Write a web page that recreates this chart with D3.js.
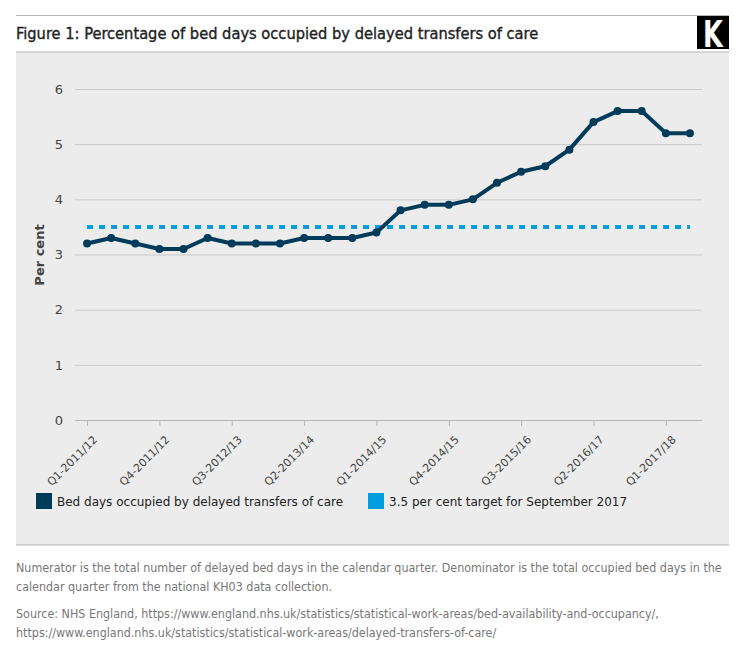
<!DOCTYPE html>
<html>
<head>
<meta charset="utf-8">
<script src="https://cdn.jsdelivr.net/npm/d3@7"></script>
<style>
  body { margin: 0; background: #fff; }
  svg { display: block; }
</style>
</head>
<body>
<svg id="canvas"></svg>
<script>
const WIDTH = 745;
const HEIGHT = 672;

// data
const quarters = [
  "Q1-2011/12", "Q2-2011/12", "Q3-2011/12", "Q4-2011/12",
  "Q1-2012/13", "Q2-2012/13", "Q3-2012/13", "Q4-2012/13",
  "Q1-2013/14", "Q2-2013/14", "Q3-2013/14", "Q4-2013/14",
  "Q1-2014/15", "Q2-2014/15", "Q3-2014/15", "Q4-2014/15",
  "Q1-2015/16", "Q2-2015/16", "Q3-2015/16", "Q4-2015/16",
  "Q1-2016/17", "Q2-2016/17", "Q3-2016/17", "Q4-2016/17",
  "Q1-2017/18", "Q2-2017/18"
];
const bedDays = [
  3.2, 3.3, 3.2, 3.1, 3.1, 3.3, 3.2, 3.2, 3.2, 3.3, 3.3, 3.3, 3.4,
  3.8, 3.9, 3.9, 4.0, 4.3, 4.5, 4.6, 4.9, 5.4, 5.6, 5.6, 5.2, 5.2
];
const target = 3.5;
const tickLabels = [
  "Q1-2011/12", "Q4-2011/12", "Q3-2012/13", "Q2-2013/14", "Q1-2014/15",
  "Q4-2014/15", "Q3-2015/16", "Q2-2016/17", "Q1-2017/18"
];
const yTicks = [0, 1, 2, 3, 4, 5, 6];
const legendItems = [
  "Bed days occupied by delayed transfers of care",
  "3.5 per cent target for September 2017"
];

const LINE_COL = "#003b5a";
const TARGET_COL = "#009ede";
const COND = "'DejaVu Sans Condensed', 'DejaVu Sans', sans-serif";
const SANS = "'DejaVu Sans', sans-serif";

const svg = d3.select("#canvas").attr("width", WIDTH).attr("height", HEIGHT);

// frame
svg.append("line").attr("x1", 16).attr("x2", 729).attr("y1", 15.5).attr("y2", 15.5)
  .attr("stroke", "#b5b5b5");
svg.append("text").attr("x", 16).attr("y", 39)
  .attr("font-family", COND).attr("font-size", 16.3)
  .attr("fill", "#222").attr("stroke", "#222").attr("stroke-width", 0.35)
  .text("Figure 1: Percentage of bed days occupied by delayed transfers of care");

// K logo
svg.append("rect").attr("x", 697).attr("y", 16).attr("width", 32).attr("height", 33).attr("fill", "#000");
svg.append("text").attr("x", 713).attr("y", 47).attr("text-anchor", "middle")
  .attr("font-family", COND).attr("font-size", 38).attr("font-weight", "bold").attr("fill", "#fff")
  .attr("transform", "translate(713,0) scale(0.75,1) translate(-713,0)")
  .text("K");

svg.append("rect").attr("x", 16).attr("y", 52).attr("width", 713).attr("height", 493).attr("fill", "#ebeceb");
svg.append("line").attr("x1", 16).attr("x2", 729).attr("y1", 52).attr("y2", 52).attr("stroke", "#b5b5b5");
svg.append("line").attr("x1", 16).attr("x2", 729).attr("y1", 545).attr("y2", 545).attr("stroke", "#b5b5b5");

// scales
const xScale = d3.scalePoint().domain(quarters).range([75, 702]).padding(0.5);
const yScale = d3.scaleLinear().domain([0, 6]).range([420, 89]);

// grid + y axis
const yAxis = d3.axisLeft(yScale).tickValues(yTicks).tickFormat(d3.format("d"))
  .tickSize(-(702 - 75)).tickPadding(12);
const gy = svg.append("g").attr("transform", "translate(75,0)").call(yAxis);
gy.select(".domain").remove();
gy.selectAll(".tick line").attr("stroke", "#c9c9c9");
gy.selectAll(".tick text").attr("font-family", SANS).attr("font-size", 13).attr("fill", "#444");

svg.append("text")
  .attr("transform", "translate(44,255) rotate(-90)")
  .attr("text-anchor", "middle")
  .attr("font-family", SANS).attr("font-size", 13).attr("font-weight", "bold").attr("fill", "#444")
  .text("Per cent");

// x axis
const xAxis = d3.axisBottom(xScale).tickValues(tickLabels).tickSize(6).tickSizeOuter(0);
const gx = svg.append("g").attr("transform", "translate(0,420)").call(xAxis);
gx.select(".domain").attr("stroke", "#b5b5b5");
gx.selectAll(".tick line").attr("stroke", "#b5b5b5");
gx.selectAll(".tick text")
  .attr("font-family", SANS).attr("font-size", 11).attr("fill", "#444")
  .attr("text-anchor", "end")
  .attr("dx", 0).attr("dy", 0)
  .attr("transform", "translate(4,14) rotate(-45)");

// target line
svg.append("line")
  .attr("x1", xScale(quarters[0])).attr("x2", xScale(quarters[quarters.length - 1]))
  .attr("y1", yScale(target)).attr("y2", yScale(target))
  .attr("stroke", TARGET_COL).attr("stroke-width", 4).attr("stroke-dasharray", "6,6");

// series
const line = d3.line().x((d, i) => xScale(quarters[i])).y((d) => yScale(d));
svg.append("path").datum(bedDays).attr("d", line)
  .attr("fill", "none").attr("stroke", LINE_COL).attr("stroke-width", 4)
  .attr("stroke-linejoin", "round");
svg.selectAll("circle.pt").data(bedDays).enter().append("circle")
  .attr("class", "pt")
  .attr("cx", (d, i) => xScale(quarters[i])).attr("cy", (d) => yScale(d))
  .attr("r", 4).attr("fill", LINE_COL);

// legend
const legendX = [36, 368];
const legendCols = [LINE_COL, TARGET_COL];
legendItems.forEach((t, i) => {
  svg.append("rect").attr("x", legendX[i]).attr("y", 493).attr("width", 16).attr("height", 16)
    .attr("fill", legendCols[i]);
  svg.append("text").attr("x", legendX[i] + 21).attr("y", 506)
    .attr("font-family", SANS).attr("font-size", 12).attr("fill", "#222").text(t);
});

// notes
const notes = [
  ["Numerator is the total number of delayed bed days in the calendar quarter. Denominator is the total occupied bed days in the", 572],
  ["calendar quarter from the national KH03 data collection.", 591],
  ["Source: NHS England, https://www.england.nhs.uk/statistics/statistical-work-areas/bed-availability-and-occupancy/,", 618],
  ["https://www.england.nhs.uk/statistics/statistical-work-areas/delayed-transfers-of-care/", 637]
];
notes.forEach(([t, y]) => {
  svg.append("text").attr("x", 16).attr("y", y)
    .attr("font-family", COND).attr("font-size", 12.4).attr("fill", "#777").text(t);
});
</script>
</body>
</html>
